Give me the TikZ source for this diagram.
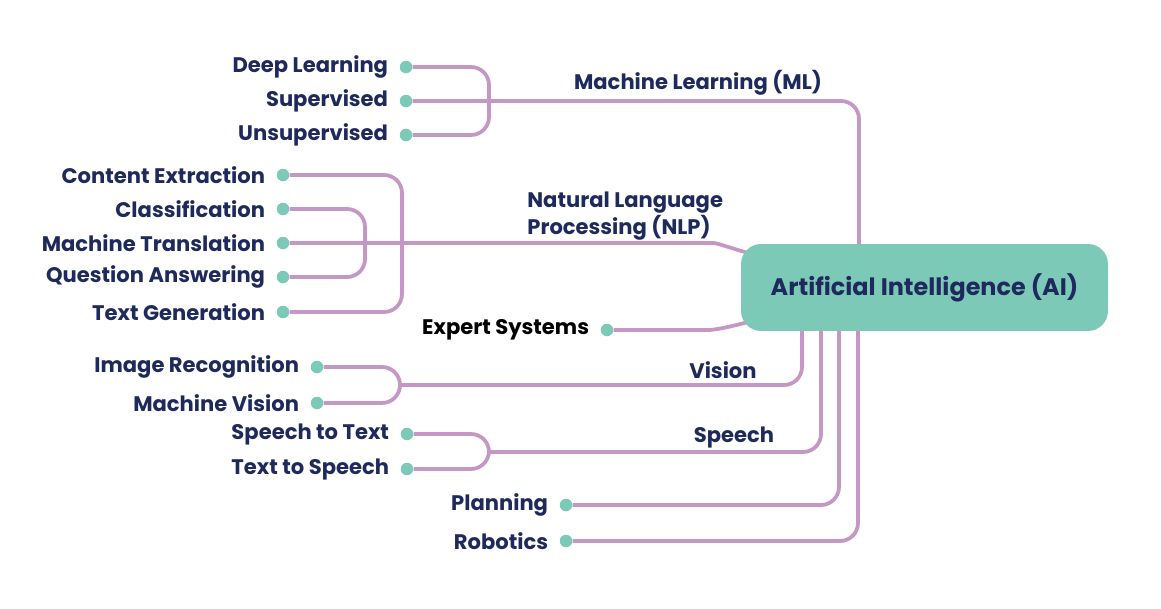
\documentclass[tikz,border=0pt]{standalone}
\usepackage{fontspec}
\setmainfont{Poppins}
\usetikzlibrary{positioning,backgrounds}

\definecolor{navy}{HTML}{1F2A5C}
\definecolor{mint}{HTML}{7DC9B8}
\definecolor{lilac}{HTML}{C497C4}

\begin{document}
\begin{tikzpicture}[x=0.02cm, y=-0.02cm,
		d/.style	= {circle, fill=mint, inner sep=0, minimum size=0.25cm},
		t/.style	= {inner sep=0, text=navy, font=\bfseries\fontsize{12}{13.6}\selectfont},
		h/.style	= {t, align=left},
		br/.style	= {draw=lilac, line width=0.075cm, rounded corners=0.36cm},
		ai/.style	= {rectangle, rounded corners=0.4cm, fill=mint, text=navy,
						minimum width=7.34cm, minimum height=1.74cm,
						font=\bfseries\fontsize{13.6}{15}\selectfont}
		]
		\useasboundingbox (0,0) rectangle (1161,609);

		% centre
		\node[ai]	(ai)	at	(924.5, 287.5)	{Artificial Intelligence (AI)};
		\coordinate	(aiml)	at	(859, 260);
		\coordinate	(ainl)	at	(752, 254);
		\coordinate	(aiex)	at	(752, 321);
		\coordinate	(aivi)	at	(802, 320);
		\coordinate	(aisp)	at	(821, 320);
		\coordinate	(aipl)	at	(839, 320);
		\coordinate	(airo)	at	(858, 320);

		% machine learning
		\node[d]	(ml1)	at	(406, 67)	{};
		\node[d]	(ml2)	at	(406, 101)	{};
		\node[d]	(ml3)	at	(406, 135)	{};
		\node[t, left=0.22cm of ml1]	(tml1)	{Deep Learning};
		\node[t, left=0.22cm of ml2]	(tml2)	{Supervised};
		\node[t, left=0.22cm of ml3]	(tml3)	{Unsupervised};
		\coordinate	(mlj)	at	(489, 101);
		\node[t]	(ml)	at	(698, 83)	{Machine Learning (ML)};

		% natural language processing
		\node[d]	(nl1)	at	(283, 175)	{};
		\node[d]	(nl2)	at	(283, 209)	{};
		\node[d]	(nl3)	at	(283, 243)	{};
		\node[d]	(nl4)	at	(283, 277)	{};
		\node[d]	(nl5)	at	(283, 312)	{};
		\node[t, left=0.22cm of nl1]	(tnl1)	{Content Extraction};
		\node[t, left=0.22cm of nl2]	(tnl2)	{Classification};
		\node[t, left=0.22cm of nl3]	(tnl3)	{Machine Translation};
		\node[t, left=0.22cm of nl4]	(tnl4)	{Question Answering};
		\node[t, left=0.22cm of nl5]	(tnl5)	{Text Generation};
		\coordinate	(nlj1)	at	(402, 243);
		\coordinate	(nlj2)	at	(365, 243);
		\coordinate	(nlb)	at	(695, 243);
		\node[h, anchor=west]	(nl)	at	(527, 216)	{Natural Language\\Processing (NLP)};

		% expert systems
		\node[d]	(ex)	at	(607, 330)	{};
		\node[t, text=black, left=0.22cm of ex]	(tex)	{Expert Systems};
		\coordinate	(exb)	at	(690, 330);

		% vision
		\node[d]	(vi1)	at	(317, 367)	{};
		\node[d]	(vi2)	at	(317, 403)	{};
		\node[t, left=0.22cm of vi1]	(tvi1)	{Image Recognition};
		\node[t, left=0.22cm of vi2]	(tvi2)	{Machine Vision};
		\coordinate	(vij)	at	(400, 385);
		\node[t]	(vi)	at	(723, 370)	{Vision};

		% speech
		\node[d]	(sp1)	at	(407, 434)	{};
		\node[d]	(sp2)	at	(407, 469)	{};
		\node[t, left=0.22cm of sp1]	(tsp1)	{Speech to Text};
		\node[t, left=0.22cm of sp2]	(tsp2)	{Text to Speech};
		\coordinate	(spj)	at	(489, 452);
		\node[t]	(sp)	at	(734, 437)	{Speech};

		% planning, robotics
		\node[d]	(pl)	at	(566, 505)	{};
		\node[d]	(ro)	at	(566, 541)	{};
		\node[t, left=0.22cm of pl]	(tpl)	{Planning};
		\node[t, left=0.22cm of ro]	(tro)	{Robotics};

		\begin{pgfonlayer}{background}
		\draw[br]	(ml1)	-|	(mlj);
		\draw[br]	(ml3)	-|	(mlj);
		\draw[br]	(ml2)	-|	(aiml);
		\draw[br]	(nl1)	-|	(nlj1);
		\draw[br]	(nl5)	-|	(nlj1);
		\draw[br]	(nl2)	-|	(nlj2);
		\draw[br]	(nl4)	-|	(nlj2);
		\draw[br]	(nl3)	--	(nlb)	to[out=0, in=165]	(ainl);
		\draw[br]	(ex)	--	(exb)	to[out=0, in=-165]	(aiex);
		\draw[br]	(vi1)	-|	(vij);
		\draw[br]	(vi2)	-|	(vij);
		\draw[br]	(vij)	-|	(aivi);
		\draw[br]	(sp1)	-|	(spj);
		\draw[br]	(sp2)	-|	(spj);
		\draw[br]	(spj)	-|	(aisp);
		\draw[br]	(pl)	-|	(aipl);
		\draw[br]	(ro)	-|	(airo);
		\end{pgfonlayer}
\end{tikzpicture}
\end{document}
